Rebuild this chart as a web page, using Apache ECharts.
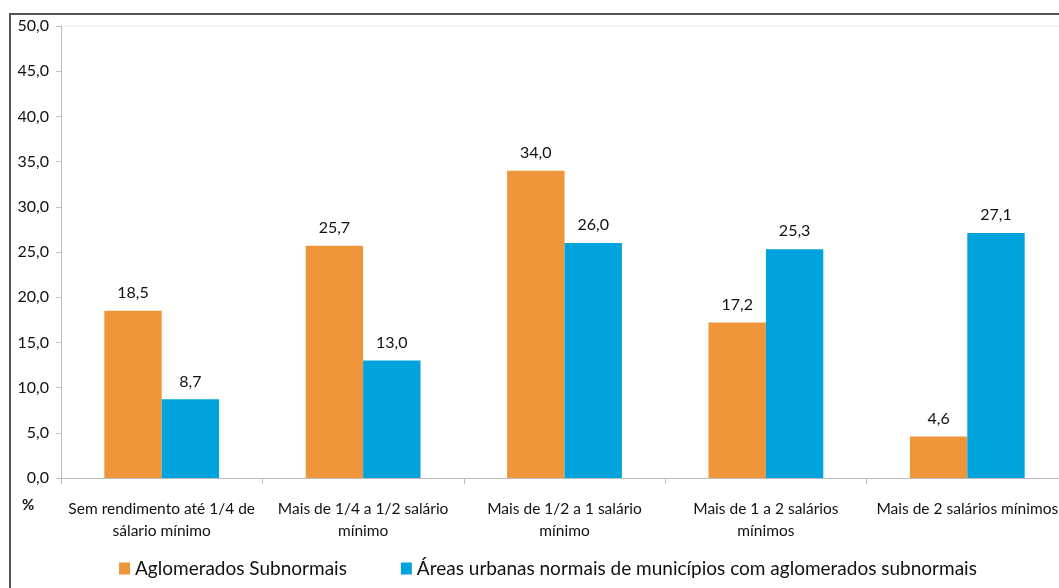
<!DOCTYPE html>
<html>
<head>
<meta charset="utf-8">
<script src="https://cdn.jsdelivr.net/npm/echarts@6/dist/echarts.min.js"></script>
<style>
  html, body { margin: 0; padding: 0; background: #fff; }
  #chart { width: 1059px; height: 588px; }
</style>
</head>
<body>
<div id="chart"></div>
<script>
// Distribution by income class (% of persons)
const categories = [
  'Sem rendimento até 1/4 de\nsálario mínimo',
  'Mais de 1/4 a 1/2 salário\nmínimo',
  'Mais de 1/2 a 1 salário\nmínimo',
  'Mais de 1 a 2 salários\nmínimos',
  'Mais de 2 salários mínimos'
];
const seriesNames = [
  'Aglomerados Subnormais',
  'Áreas urbanas normais de municípios com aglomerados subnormais'
];
const aglomerados = [18.5, 25.7, 34.0, 17.2, 4.6];
const areasUrbanas = [8.7, 13.0, 26.0, 25.3, 27.1];
const yTicks = { min: 0, max: 50, interval: 5 };

const FONT = 'Lato, "Open Sans", sans-serif';
const TEXT = '#111';
const fmt = v => v.toFixed(1).replace('.', ',');

const chart = echarts.init(document.getElementById('chart'));
chart.setOption({
  animation: false,
  backgroundColor: '#fff',
  textStyle: { fontFamily: FONT },
  // plot area runs slightly past the right edge of the canvas
  grid: {
    left: 61, top: 26, width: 1007, height: 452,
    containLabel: false, outerBoundsMode: 'none'
  },
  legend: {
    left: 114, top: 554,
    itemWidth: 11, itemHeight: 12, itemGap: 54,
    icon: 'rect',
    textStyle: { fontFamily: FONT, fontSize: 19, color: TEXT },
    data: seriesNames
  },
  xAxis: {
    type: 'category',
    data: categories,
    axisLine: { lineStyle: { color: '#bdbdbd', width: 1 } },
    axisTick: { show: true, length: 6, lineStyle: { color: '#bdbdbd' } },
    axisLabel: {
      margin: 20, interval: 0,
      fontFamily: FONT, fontSize: 15.5, color: TEXT, lineHeight: 22
    }
  },
  yAxis: {
    type: 'value',
    min: yTicks.min, max: yTicks.max, interval: yTicks.interval,
    splitLine: { show: false },
    axisLine: { show: true, lineStyle: { color: '#bdbdbd', width: 1 } },
    axisTick: { show: true, length: 5, lineStyle: { color: '#bdbdbd' } },
    axisLabel: {
      margin: 12, fontFamily: FONT, fontSize: 16, color: TEXT,
      formatter: v => fmt(v)
    }
  },
  series: [
    {
      name: seriesNames[0], type: 'bar', data: aglomerados,
      barGap: '0%', barCategoryGap: '43%',
      itemStyle: { color: '#F0963A' },
      label: {
        show: true, position: 'top', distance: 10,
        fontFamily: FONT, fontSize: 16, color: TEXT,
        formatter: p => fmt(p.value)
      }
    },
    {
      name: seriesNames[1], type: 'bar', data: areasUrbanas,
      barGap: '0%', barCategoryGap: '43%',
      itemStyle: { color: '#00A3DC' },
      label: {
        show: true, position: 'top', distance: 10,
        fontFamily: FONT, fontSize: 16, color: TEXT,
        formatter: p => fmt(p.value)
      }
    }
  ],
  graphic: [
    // outer frame (top and left edges)
    { type: 'polyline', shape: { points: [[10, 600], [10, 14], [1070, 14]] },
      style: { stroke: '#555', lineWidth: 2, fill: null } },
    // plot area top edge
    { type: 'line', shape: { x1: 61, y1: 26, x2: 1059, y2: 26 },
      style: { stroke: '#e6e6e6', lineWidth: 1 } },
    // unit marker
    { type: 'text', x: 22, y: 498,
      style: { text: '%', fontFamily: FONT, fontSize: 15, fontWeight: 'bold', fill: TEXT } }
  ]
});
</script>
</body>
</html>
